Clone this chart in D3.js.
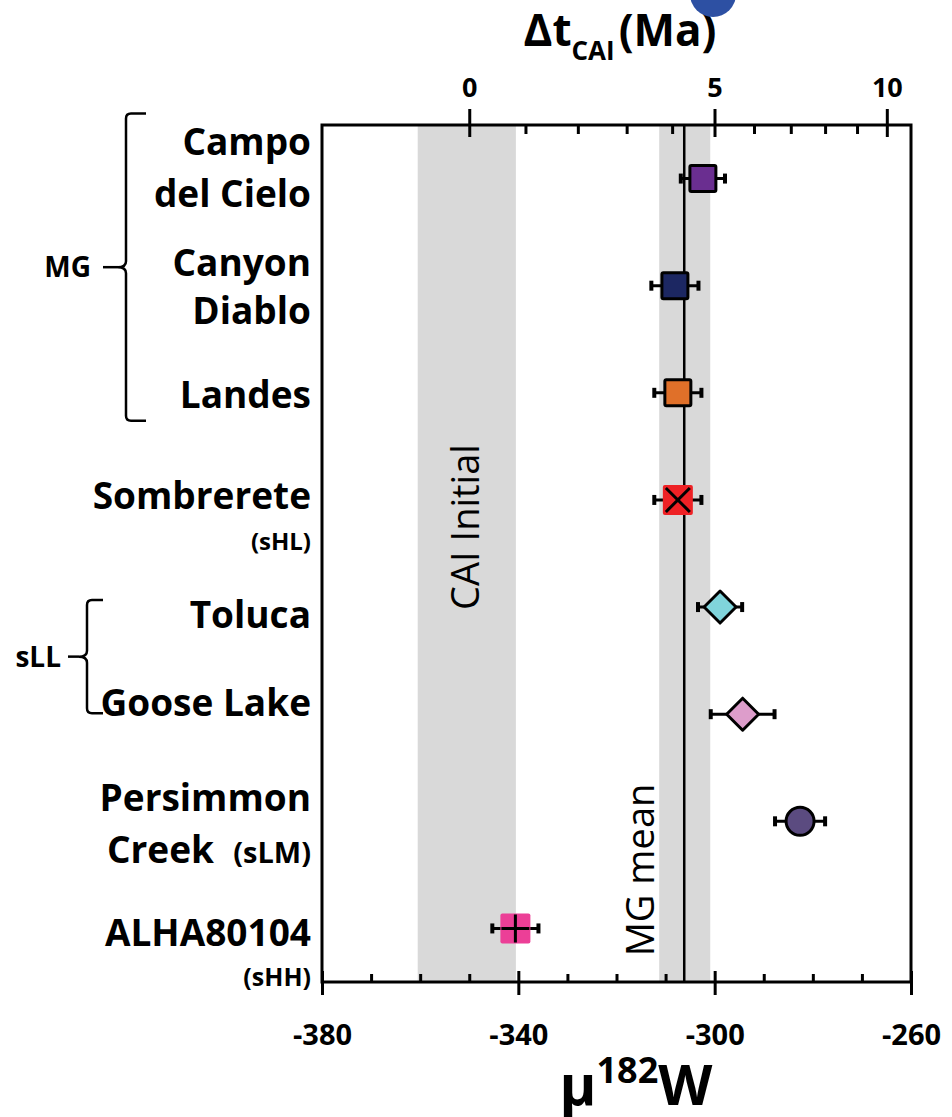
<!DOCTYPE html>
<html>
<head>
<meta charset="utf-8">
<script src="https://cdn.jsdelivr.net/npm/d3@7"></script>
<style>
  body { margin: 0; background: #fff; }
  svg { display: block; font-family: "Open Sans", sans-serif; }
</style>
</head>
<body>
<svg id="chart" width="952" height="1117"></svg>
<script>
// meteorite rows, top to bottom
var names = ["Campo del Cielo", "Canyon Diablo", "Landes", "Sombrerete",
             "Toluca", "Goose Lake", "Persimmon Creek", "ALHA80104"];
var labelLines = [["Campo", "del Cielo"], ["Canyon", "Diablo"], ["Landes"],
                  ["Sombrerete", "(sHL)"], ["Toluca"], ["Goose Lake"],
                  ["Persimmon", "Creek  (sLM)"], ["ALHA80104", "(sHH)"]];
var mu = [-302.4, -308.1, -307.5, -307.5, -298.9, -294.3, -282.6, -340.6];
var muErr = [4.5, 4.8, 4.8, 4.8, 4.5, 6.5, 5.1, 4.7];
var shapes = ["square", "square", "square", "squareX", "diamond", "diamond", "circle", "squarePlus"];
var colors = ["#6a2e90", "#1c2762", "#e07029", "#ee2125", "#80d4db", "#dd9dcb", "#5b4b80", "#ec3f97"];

// reference bands
var caiBand = [-360.5, -340.5];
var mgBand = [-311.3, -300.9];
var mgMean = -306.2;

// axes
var muDomain = [-380, -260];
var muMajor = [-380, -340, -300, -260];
var muMinor = [-370, -360, -350, -330, -320, -310, -290, -280, -270];
var dtMajor = [0, 5, 10];
var dtMinor = [1, 2, 3, 4, 6, 7, 8, 9];

// delta t (Ma) -> mu182W for the top axis
var mu0 = -350, muSpan = 168, lambda = 0.0706;
function dtToMu(t) { return mu0 + muSpan * (1 - Math.exp(-lambda * t)); }

var groups = [{name: "MG", from: 0, to: 2}, {name: "sLL", from: 4, to: 5}];

var svg = d3.select('#chart');
var margin = {top: 125, right: 41, bottom: 135, left: 322};
var W = 952, H = 1117;
var plotW = W - margin.left - margin.right;
var plotH = H - margin.top - margin.bottom;

var x = d3.scaleLinear().domain(muDomain).range([margin.left, margin.left + plotW]);
var y = d3.scaleBand().domain(names).range([margin.top, margin.top + plotH]);
var yc = function(n){ return y(n) + y.bandwidth() / 2; };

// grey bands
svg.append('rect')
    .attr('x', x(caiBand[0])).attr('y', margin.top)
    .attr('width', x(caiBand[1]) - x(caiBand[0])).attr('height', plotH)
    .style('fill', '#d9d9d9');
svg.append('rect')
    .attr('x', x(mgBand[0])).attr('y', margin.top)
    .attr('width', x(mgBand[1]) - x(mgBand[0])).attr('height', plotH)
    .style('fill', '#d9d9d9');
svg.append('line')
    .attr('x1', x(mgMean)).attr('x2', x(mgMean))
    .attr('y1', margin.top).attr('y2', margin.top + plotH)
    .style('stroke', '#000').style('stroke-width', 2.5);

svg.append('text')
    .attr('transform', 'translate(479,527) rotate(-90)')
    .attr('text-anchor', 'middle')
    .style('font-size', '38px')
    .text('CAI Initial');
svg.append('text')
    .attr('transform', 'translate(654,870) rotate(-90)')
    .attr('text-anchor', 'middle')
    .style('font-size', '38px')
    .text('MG mean');

// axes
var bottomAxis = svg.append('g')
    .attr('transform', 'translate(0,' + (margin.top + plotH) + ')')
    .call(d3.axisBottom(x).tickValues(muMajor).tickSize(13).tickPadding(50)
        .tickFormat(function(d){ return String(d); }));
bottomAxis.selectAll('.tick line').attr('y1', -11).style('stroke-width', 3);
bottomAxis.selectAll('text')
    .style('font-size', '29px').style('font-weight', 'bold')
    .style('font-family', '"Open Sans", sans-serif').attr('dy', '0');
bottomAxis.select('.domain').remove();

var bottomMinor = svg.append('g')
    .attr('transform', 'translate(0,' + (margin.top + plotH) + ')')
    .call(d3.axisBottom(x).tickValues(muMinor).tickSize(-8).tickFormat(''));
bottomMinor.selectAll('.tick line').style('stroke-width', 3);
bottomMinor.select('.domain').remove();

var topAxis = svg.append('g')
    .attr('transform', 'translate(0,' + margin.top + ')')
    .call(d3.axisTop(x).tickValues(dtMajor.map(dtToMu)).tickSize(16).tickPadding(12)
        .tickFormat(function(d, i){ return dtMajor[i]; }));
topAxis.selectAll('.tick line').attr('y1', 12).style('stroke-width', 3);
topAxis.selectAll('text')
    .style('font-size', '27px').style('font-weight', 'bold')
    .style('font-family', '"Open Sans", sans-serif');
topAxis.select('.domain').remove();

var topMinor = svg.append('g')
    .attr('transform', 'translate(0,' + margin.top + ')')
    .call(d3.axisTop(x).tickValues(dtMinor.map(dtToMu)).tickSize(-9).tickFormat(''));
topMinor.selectAll('.tick line').style('stroke-width', 3);
topMinor.select('.domain').remove();

// frame
svg.append('rect')
    .attr('x', margin.left).attr('y', margin.top)
    .attr('width', plotW).attr('height', plotH)
    .style('fill', 'none').style('stroke', '#000').style('stroke-width', 3);

// error bars
var rows = names.map(function(n, i){
    return {name: n, mu: mu[i], err: muErr[i], shape: shapes[i], color: colors[i], lines: labelLines[i]};
});
var eb = svg.append('g').selectAll('g.err').data(rows).enter().append('g').attr('class', 'err');
eb.append('line')
    .attr('x1', function(d){ return x(d.mu - d.err); })
    .attr('x2', function(d){ return x(d.mu + d.err); })
    .attr('y1', function(d){ return yc(d.name); })
    .attr('y2', function(d){ return yc(d.name); })
    .style('stroke', '#000').style('stroke-width', 3);
[-1, 1].forEach(function(s){
    eb.append('line')
        .attr('x1', function(d){ return x(d.mu + s * d.err); })
        .attr('x2', function(d){ return x(d.mu + s * d.err); })
        .attr('y1', function(d){ return yc(d.name) - 5; })
        .attr('y2', function(d){ return yc(d.name) + 5; })
        .style('stroke', '#000').style('stroke-width', 4);
});

// markers
var mk = svg.append('g').selectAll('g.mark').data(rows).enter().append('g')
    .attr('class', 'mark')
    .attr('transform', function(d){ return 'translate(' + x(d.mu) + ',' + yc(d.name) + ')'; });
mk.each(function(d){
    var g = d3.select(this);
    if (d.shape === 'square') {
        g.append('rect').attr('x', -13).attr('y', -13).attr('width', 26).attr('height', 26)
            .attr('rx', 1.5)
            .style('fill', d.color).style('stroke', '#000').style('stroke-width', 3);
    } else if (d.shape === 'squareX' || d.shape === 'squarePlus') {
        g.append('rect').attr('x', -15).attr('y', -15).attr('width', 30).attr('height', 30)
            .attr('rx', 2).style('fill', d.color);
        var p = d.shape === 'squareX' ? 'M-12,-12L12,12M12,-12L-12,12' : 'M0,-14L0,14M-14,0L14,0';
        g.append('path').attr('d', p).style('stroke', '#000').style('stroke-width', 3);
    } else if (d.shape === 'diamond') {
        g.append('path').attr('d', 'M0,-16L16,0L0,16L-16,0Z')
            .style('fill', d.color).style('stroke', '#000').style('stroke-width', 3)
            .style('stroke-linejoin', 'round');
    } else {
        g.append('circle').attr('r', 14)
            .style('fill', d.color).style('stroke', '#000').style('stroke-width', 3);
    }
});

// row labels: baseline offsets from row centre, and the size of a bracketed part
var labelDy = [[-24, 28], [-10, 38], [15], [9, 50], [21], [2], [-10, 42], [18, 58]];
var smallSize = [[], [], [], [0, 24], [], [], [0, 29], [0, 25]];
var labels = svg.append('g').attr('text-anchor', 'end').style('font-weight', 'bold');
rows.forEach(function(d, i){
    d.lines.forEach(function(line, j){
        var t = labels.append('text')
            .attr('x', 311)
            .attr('y', yc(d.name) + labelDy[i][j]);
        line.split(/(\(.*\))/).filter(function(s){ return s.length; }).forEach(function(part){
            t.append('tspan')
                .style('font-size', part.charAt(0) === '(' ? smallSize[i][j] + 'px' : '37px')
                .attr('xml:space', 'preserve')
                .text(part);
        });
    });
});

// group braces
var braceLayout = {
    MG:  {bx: 126, hook: 146, top: yc(names[0]) - 65, bot: yc(names[2]) + 28, dash: 103, textX: 91},
    sLL: {bx: 87, hook: 103, top: yc(names[4]) - 7, bot: yc(names[5]) - 1, dash: 68, textX: 61}
};
groups.forEach(function(gr){
    var L = braceLayout[gr.name];
    var mid = (L.top + L.bot) / 2;
    var path = d3.path();
    path.moveTo(L.hook, L.top);
    path.lineTo(L.bx + 5, L.top);
    path.quadraticCurveTo(L.bx, L.top, L.bx, L.top + 5);
    path.lineTo(L.bx, mid - 6);
    path.quadraticCurveTo(L.bx, mid, L.bx - 8, mid);
    path.quadraticCurveTo(L.bx, mid, L.bx, mid + 6);
    path.lineTo(L.bx, L.bot - 5);
    path.quadraticCurveTo(L.bx, L.bot, L.bx + 5, L.bot);
    path.lineTo(L.hook, L.bot);
    svg.append('path').attr('d', path.toString())
        .style('fill', 'none').style('stroke', '#000').style('stroke-width', 2.5);
    svg.append('line').attr('x1', L.dash).attr('x2', L.bx - 8)
        .attr('y1', mid).attr('y2', mid)
        .style('stroke', '#000').style('stroke-width', 2.5);
    svg.append('text').attr('x', L.textX).attr('y', mid + 10)
        .attr('text-anchor', 'end')
        .style('font-size', '28px').style('font-weight', 'bold')
        .text(gr.name);
});

// axis titles
var topTitle = svg.append('text').attr('x', 620).attr('y', 46)
    .attr('text-anchor', 'middle').style('font-weight', 'bold').style('font-size', '44px');
topTitle.append('tspan').text('\u0394t');
topTitle.append('tspan').attr('dy', 14).style('font-size', '26px').text('CAI');
topTitle.append('tspan').attr('dy', -14).attr('dx', 4).text('(Ma)');

var botTitle = svg.append('text').attr('x', 636).attr('y', 1105)
    .attr('text-anchor', 'middle').style('font-weight', 'bold').style('font-size', '56px');
botTitle.append('tspan').text('\u03bc');
botTitle.append('tspan').attr('dy', -22).style('font-size', '36px').text('182');
botTitle.append('tspan').attr('dy', 22).text('W');

// blue blob cut by the top edge
svg.append('circle').attr('cx', 713).attr('cy', -6).attr('r', 23).style('fill', '#2d50a3');
</script>
</body>
</html>
